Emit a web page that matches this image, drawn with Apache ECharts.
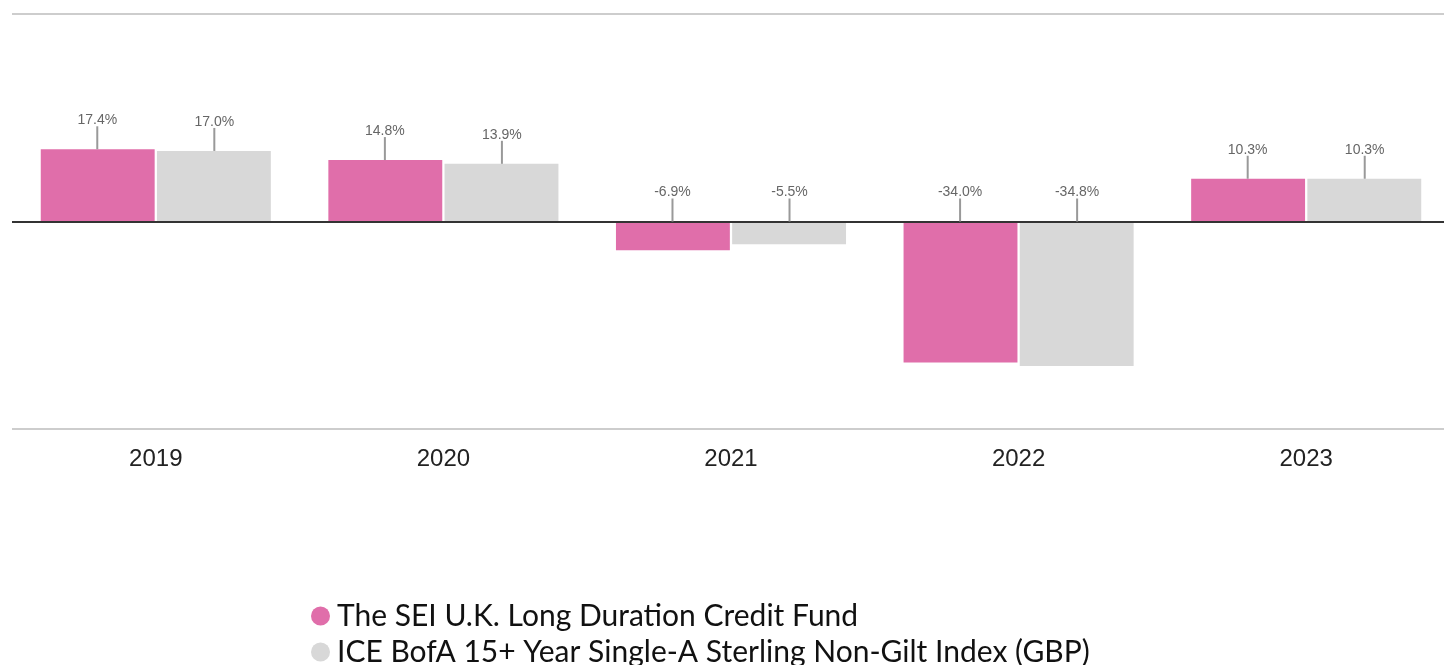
<!DOCTYPE html>
<html>
<head>
<meta charset="utf-8">
<script src="https://cdn.jsdelivr.net/npm/echarts@6/dist/echarts.min.js"></script>
<style>html,body{margin:0;padding:0;background:#fff}#c{width:1444px;height:665px}</style>
</head>
<body>
<div id="c"></div>
<script>
const categories = ['2019', '2020', '2021', '2022', '2023'];
const fundName = 'The SEI U.K. Long Duration Credit Fund';
const indexName = 'ICE BofA 15+ Year Single-A Sterling Non-Gilt Index (GBP)';
const fundValues = [17.4, 14.8, -6.9, -34.0, 10.3];
const indexValues = [17.0, 13.9, -5.5, -34.8, 10.3];

const labelData = [];
fundValues.forEach((v, i) => labelData.push([i, v, 0]));
indexValues.forEach((v, i) => labelData.push([i, v, 1]));

const legendText = { fontFamily: 'Lato', fontSize: 30, color: '#111', padding: [0, 0, 0, 2] };
const chart = echarts.init(document.getElementById('c'));
chart.setOption({
  animation: false,
  textStyle: { fontFamily: 'Liberation Sans' },
  grid: { left: 12, top: 14, width: 1438, height: 415, containLabel: false, outerBoundsMode: 'none' },
  legend: [
    { left: 306, top: 596, icon: 'circle', itemWidth: 19, itemHeight: 19, itemGap: 8,
      textStyle: legendText, data: [fundName] },
    { left: 306, top: 632, icon: 'circle', itemWidth: 19, itemHeight: 19, itemGap: 8,
      textStyle: legendText, data: [indexName] }
  ],
  xAxis: {
    type: 'category', data: categories,
    axisLine: { show: false }, axisTick: { show: false },
    axisLabel: { fontFamily: 'Liberation Sans', fontSize: 24, color: '#222', margin: 18 }
  },
  yAxis: {
    type: 'value', min: -50, max: 50, interval: 50,
    axisLabel: { show: false }, axisLine: { show: false }, axisTick: { show: false },
    splitLine: { show: true, lineStyle: { color: ['#bdbdbd', 'rgba(0,0,0,0)', '#bdbdbd'], width: 1.5 } }
  },
  series: [
    {
      name: fundName, type: 'bar', data: fundValues,
      barCategoryGap: '20%', barGap: '2%',
      itemStyle: { color: '#e06eaa' },
      z: 2
    },
    {
      name: indexName, type: 'bar', data: indexValues,
      itemStyle: { color: '#d8d8d8' },
      z: 2,
      markLine: {
        silent: true, symbol: 'none', label: { show: false },
        lineStyle: { color: '#333', width: 2, type: 'solid' },
        data: [{ yAxis: 0 }]
      }
    },
    {
      type: 'custom', data: labelData, z: 5, silent: true,
      renderItem: function (params, api) {
        const cat = api.value(0), v = api.value(1), s = api.value(2);
        const band = api.size([1, 0])[0];
        const c = api.coord([cat, Math.max(0, v)]);
        const x = c[0] + (s === 0 ? -0.2 : 0.2) * band + (s === 0 ? -1 : 1);
        const y = c[1];
        return {
          type: 'group',
          children: [
            { type: 'line', shape: { x1: x, y1: y, x2: x, y2: y - 23 }, style: { stroke: '#999', lineWidth: 2 } },
            { type: 'text', style: { x: x, y: y - 29, text: v.toFixed(1) + '%', align: 'center', verticalAlign: 'middle',
              fontFamily: 'Liberation Sans', fontSize: 14, fill: '#666' } }
          ]
        };
      }
    }
  ]
});
</script>
</body>
</html>
